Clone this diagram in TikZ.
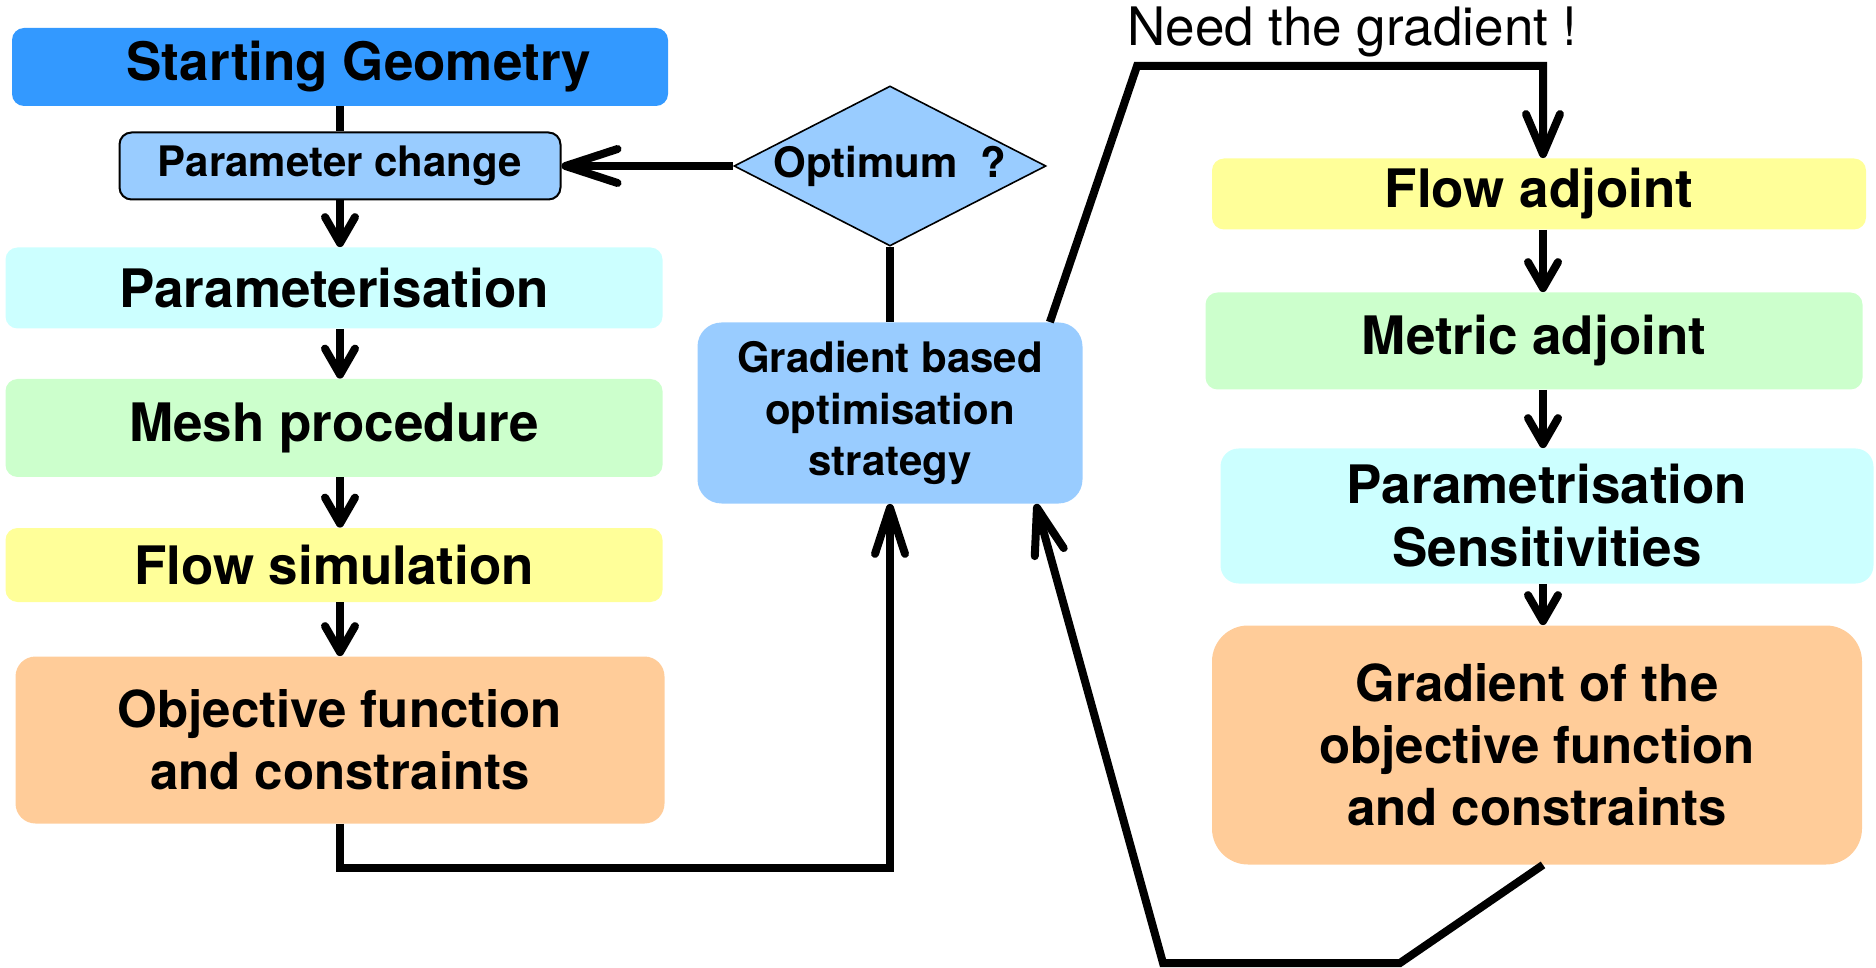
\documentclass[tikz,border=0pt]{standalone}
\usepackage{fontspec}
\setmainfont{TeX Gyre Heros}
\usetikzlibrary{shapes.geometric,arrows.meta}

\definecolor{geoblue}{HTML}{3399FF}
\definecolor{optblue}{HTML}{99CCFF}
\definecolor{paramcyan}{HTML}{CCFFFF}
\definecolor{meshgreen}{HTML}{CCFFCC}
\definecolor{flowyellow}{HTML}{FFFF99}
\definecolor{objorange}{HTML}{FFCC99}

\tikzset{
  stage/.style={rounded corners=6pt, inner sep=0pt, align=center,
    font=\bfseries\fontsize{26.5}{31.5}\selectfont},
  smalltext/.style={font=\bfseries\fontsize{21}{25.7}\selectfont},
  twoline/.style={font=\bfseries\fontsize{25.5}{31}\selectfont},
  link/.style={line width=4pt},
  flowarrow/.style={line width=4pt, -{Straight Barb[round,length=13pt,width=15pt]}},
  looparrow/.style={line width=4pt, -{Straight Barb[round,length=23pt,width=15pt]}},
}

\begin{document}
\begin{tikzpicture}[x=0.5pt,y=-0.5pt]
    \useasboundingbox (0,0) rectangle (1876,968);

    % analysis chain
    \node[stage, fill=geoblue, minimum width=328pt, minimum height=39pt] (geo) at (340,67) {\hspace*{19pt}Starting Geometry};
    \node[stage, smalltext, fill=optblue, draw, line width=1pt, minimum width=220.5pt, minimum height=33.5pt] (change) at (340,166) {Parameter change};
    \node[stage, fill=paramcyan, minimum width=328.5pt, minimum height=40.5pt] (param) at (334,288) {Parameterisation};
    \node[stage, fill=meshgreen, minimum width=328.5pt, minimum height=49pt] (mesh) at (334,428) {Mesh procedure};
    \node[stage, fill=flowyellow, minimum width=328.5pt, minimum height=37pt] (flow) at (334,565) {Flow simulation};
    \node[stage, twoline, fill=objorange, rounded corners=10pt, minimum width=324.5pt, minimum height=83.5pt] (obj) at (340,740) {Objective function\\and constraints};

    % optimiser
    \node[diamond, smalltext, fill=optblue, draw, line width=0.8pt, inner sep=0pt, aspect=1.95, minimum width=154pt, minimum height=79pt] (optimum) at (890,166) {Optimum\ \ ?};
    \node[stage, smalltext, fill=optblue, rounded corners=12pt, minimum width=192.5pt, minimum height=90.5pt] (strategy) at (890,413) {Gradient based\\optimisation\\strategy};

    % adjoint chain
    \node[stage, fill=flowyellow, minimum width=327pt, minimum height=35.5pt] (flowadj) at (1539,194) {Flow adjoint};
    \node[stage, fill=meshgreen, minimum width=328.5pt, minimum height=48.5pt] (metricadj) at (1534,341) {Metric adjoint};
    \node[stage, fill=paramcyan, rounded corners=9pt, minimum width=326.5pt, minimum height=67.5pt] (sens) at (1547,516) {Parametrisation\\Sensitivities};
    \node[stage, twoline, fill=objorange, rounded corners=18pt, minimum width=325pt, minimum height=119.5pt] (grad) at (1537,745) {Gradient of the\\objective function\\and constraints};

    \node[anchor=west, inner sep=0pt, font=\fontsize{26.5}{31.5}\selectfont] (need) at (1127,32) {Need the gradient !};

    \coordinate (topbend) at (1137,66);
    \coordinate (topturn) at (1543,66);
    \coordinate (botturn) at (1400,963);
    \coordinate (botbend) at (1163,963);

    \draw[link] (geo.south) -- (geo.south |- change.north);
    \draw[flowarrow] (change.south) -- (change.south |- param.north);
    \draw[flowarrow] (change.south |- param.south) -- (change.south |- mesh.north);
    \draw[flowarrow] (change.south |- mesh.south) -- (change.south |- flow.north);
    \draw[flowarrow] (change.south |- flow.south) -- (obj.north);

    \draw[looparrow] (obj.south) -- ++(0,44) -| (strategy.south);
    \draw[link] (optimum.south) -- (strategy.north);
    \draw[looparrow, -{Straight Barb[round,length=26pt,width=17pt]}] (optimum.west) -- (change.east);

    \draw[looparrow, -{Straight Barb[round,length=20pt,width=17pt]}] ([xshift=-16.5pt]strategy.north east) -- (topbend) -- (topturn) -- (topturn |- flowadj.north);
    \draw[flowarrow] (topturn |- flowadj.south) -- (topturn |- metricadj.north);
    \draw[flowarrow] (topturn |- metricadj.south) -- (topturn |- sens.north);
    \draw[flowarrow] (topturn |- sens.south) -- (topturn |- grad.north);
    \draw[looparrow] (topturn |- grad.south) -- (botturn) -- (botbend) -- ([xshift=-23.5pt]strategy.south east);
\end{tikzpicture}
\end{document}
